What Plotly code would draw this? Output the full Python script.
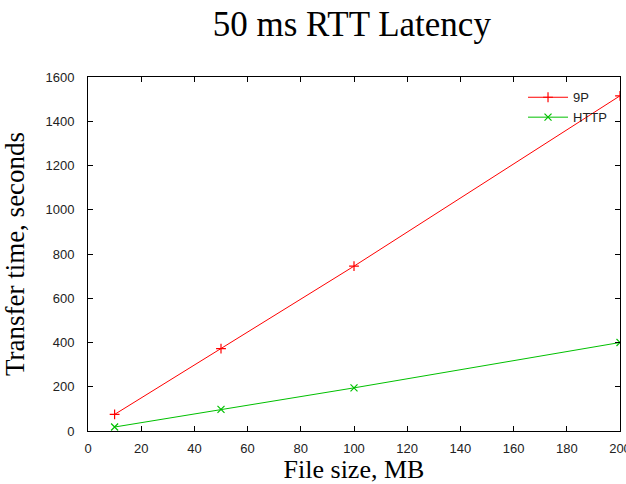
import plotly.graph_objects as go

file_size_mb = [10, 50, 100, 200]
time_9p = [75, 372, 745, 1515]
time_http = [18, 98, 195, 400]

SERIF = "Liberation Serif, Times New Roman, serif"
SANS = "Liberation Sans, Arial, sans-serif"

fig = go.Figure()
fig.add_trace(go.Scatter(
    x=file_size_mb, y=time_9p, name="9P", mode="lines+markers",
    line=dict(color="#ff0000", width=1),
    marker=dict(symbol="cross-thin-open", size=7, line=dict(color="#ff0000", width=1.2)),
))
fig.add_trace(go.Scatter(
    x=file_size_mb, y=time_http, name="HTTP", mode="lines+markers",
    line=dict(color="#00c000", width=1),
    marker=dict(symbol="x-thin-open", size=7, line=dict(color="#00c000", width=1.2)),
))

axis_common = dict(
    showgrid=False, zeroline=False, showline=True, linecolor="black", linewidth=1,
    ticks="inside", ticklen=5, tickcolor="black", mirror="ticks",
    ticklabeloverflow="allow", automargin=False,
    tickfont=dict(family=SANS, size=13, color="#222222"),
)

fig.update_layout(
    width=626, height=484,
    margin=dict(l=88, r=6, t=77, b=53),
    paper_bgcolor="white", plot_bgcolor="white",
    title=dict(text="50 ms RTT Latency", x=0.562, xanchor="center", y=0.95, yanchor="middle",
               font=dict(family=SERIF, size=35, color="black")),
    xaxis=dict(axis_common, range=[0, 200], dtick=20, ticklabelstandoff=5,
               title=dict(text="File size, MB", standoff=9,
                          font=dict(family=SERIF, size=26, color="black"))),
    yaxis=dict(axis_common, range=[0, 1600], dtick=200, ticklabelstandoff=10,
               title=dict(text="Transfer time, seconds", standoff=18,
                          font=dict(family=SERIF, size=27, color="black"))),
    legend=dict(x=0.985, y=0.985, xanchor="right", yanchor="top", bgcolor="rgba(0,0,0,0)",
                font=dict(family=SANS, size=13, color="#222222"),
                tracegroupgap=0, itemwidth=40),
    showlegend=True,
)

fig.write_html("out.html")
